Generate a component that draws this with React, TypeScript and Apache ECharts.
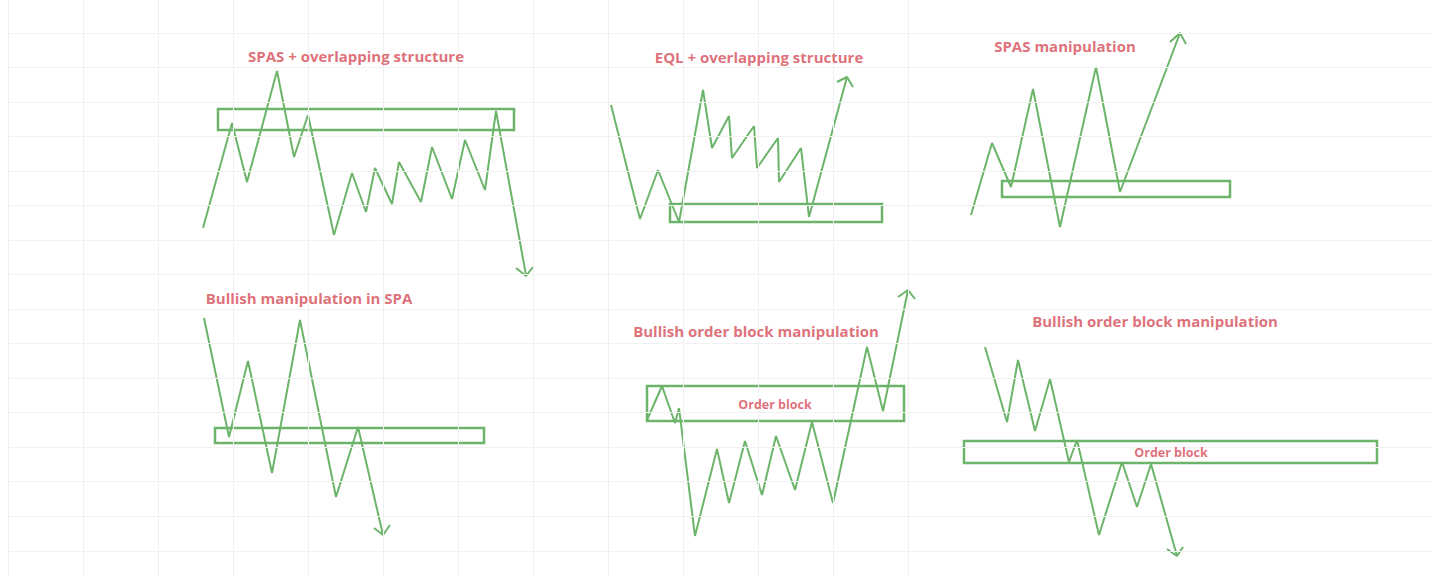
import { useEffect, useRef } from "react";
import * as echarts from "echarts";

type Pt = [number, number];

// page-space coordinates (px) of each sketch: zigzag, arrow head, zone box
const spasPath: Pt[] = [
  [203, 228], [232, 123], [247, 182], [277, 71], [294, 157], [308, 115],
  [334, 235], [352, 173], [366, 212], [375, 168], [392, 204], [399, 162],
  [421, 202], [432, 147], [452, 199], [465, 140], [485, 190], [496, 111],
  [526, 275],
];
const spasHead: Pt[] = [[516, 268], [526, 276], [533, 267]];
const spasBox: Pt[] = [[218, 109], [514, 130]];

const eqlPath: Pt[] = [
  [611, 105], [640, 219], [658, 170], [679, 222], [703, 90], [712, 148],
  [729, 116], [732, 158], [754, 126], [757, 168], [778, 138], [779, 182],
  [801, 148], [809, 217], [847, 77],
];
const eqlHead: Pt[] = [[837, 82], [847, 77], [853, 87]];
const eqlBox: Pt[] = [[670, 204], [882, 222]];

const manipPath: Pt[] = [
  [971, 215], [992, 143], [1011, 187], [1033, 89], [1060, 227], [1096, 67],
  [1120, 192], [1180, 33],
];
const manipHead: Pt[] = [[1170, 42], [1180, 33], [1186, 44]];
const manipBox: Pt[] = [[1002, 181], [1230, 197]];

const spaPath: Pt[] = [
  [204, 318], [229, 437], [248, 361], [272, 473], [300, 320], [336, 497],
  [358, 427], [383, 535],
];
const spaHead: Pt[] = [[374, 528], [383, 535], [390, 525]];
const spaBox: Pt[] = [[215, 428], [484, 443]];

const obUpPath: Pt[] = [
  [647, 420], [662, 386], [675, 423], [679, 408], [695, 536], [717, 449],
  [729, 503], [745, 441], [762, 495], [776, 436], [795, 490], [812, 422],
  [833, 503], [867, 347], [883, 411], [908, 290],
];
const obUpHead: Pt[] = [[898, 297], [908, 290], [915, 299]];
const obUpBox: Pt[] = [[647, 386], [904, 421]];

const obDownPath: Pt[] = [
  [985, 347], [1007, 422], [1018, 360], [1035, 431], [1050, 379],
  [1069, 462], [1077, 440], [1099, 535], [1122, 462], [1137, 507],
  [1151, 464], [1177, 556],
];
const obDownHead: Pt[] = [[1167, 549], [1177, 556], [1183, 547]];
const obDownBox: Pt[] = [[964, 441], [1377, 463]];

const titles: [number, number, string][] = [
  [356, 56, "SPAS + overlapping structure"],
  [759, 57, "EQL + overlapping structure"],
  [1065, 46, "SPAS manipulation"],
  [309, 298, "Bullish manipulation in SPA"],
  [756, 331, "Bullish order block manipulation"],
  [1155, 321, "Bullish order block manipulation"],
];
const boxLabels: [number, number, string][] = [
  [775, 404, "Order block"],
  [1171, 452, "Order block"],
];

// faint paper grid
const hLines = [33, 67, 102, 136, 171, 205, 240, 274, 309, 343, 378, 412, 447, 481, 516, 551];
const vLines = [8, 83, 158, 233, 308, 383, 458, 533, 608, 683, 758, 833, 908];

const GREEN = "#6cb46a";
const RED = "#d64b56";

export default function App() {
  const ref = useRef<HTMLDivElement>(null);

  useEffect(() => {
    if (!ref.current) return;
    const chart = echarts.init(ref.current, null, { renderer: "svg" });

    const paperLines = [
      ...hLines.map((y) => [{ coord: [8, y] }, { coord: [1432, y] }]),
      ...vLines.map((x) => [{ coord: [x, 0] }, { coord: [x, 576] }]),
    ];

    const sketches = [
      [spasPath, spasHead, spasBox],
      [eqlPath, eqlHead, eqlBox],
      [manipPath, manipHead, manipBox],
      [spaPath, spaHead, spaBox],
      [obUpPath, obUpHead, obUpBox],
      [obDownPath, obDownHead, obDownBox],
    ] as const;

    const series: any[] = [
      {
        type: "line",
        data: [],
        silent: true,
        markLine: {
          silent: true,
          symbol: "none",
          label: { show: false },
          lineStyle: { color: "#f1f1f1", width: 1, type: "solid" },
          data: paperLines,
        },
      },
    ];

    sketches.forEach(([path, head, box]) => {
      series.push({
        type: "line",
        data: path,
        showSymbol: false,
        silent: true,
        z: 3,
        lineStyle: { color: GREEN, width: 2 },
        markArea: {
          silent: true,
          itemStyle: { color: "rgba(0,0,0,0)", borderColor: GREEN, borderWidth: 2.5 },
          data: [[{ coord: box[0] }, { coord: box[1] }]],
        },
      });
      series.push({
        type: "line",
        data: head,
        showSymbol: false,
        silent: true,
        z: 3,
        lineStyle: { color: GREEN, width: 2 },
      });
    });

    series.push({
      type: "scatter",
      symbolSize: 0,
      silent: true,
      z: 5,
      data: titles.map(([x, y, t]) => ({ value: [x, y], name: t })),
      label: {
        show: true,
        position: "inside",
        formatter: "{b}",
        color: RED,
        fontFamily: "Open Sans",
        fontWeight: "bold",
        fontSize: 15,
      },
    });
    series.push({
      type: "scatter",
      symbolSize: 0,
      silent: true,
      z: 5,
      data: boxLabels.map(([x, y, t]) => ({ value: [x, y], name: t })),
      label: {
        show: true,
        position: "inside",
        formatter: "{b}",
        color: RED,
        fontFamily: "Open Sans",
        fontWeight: "bold",
        fontSize: 12.5,
      },
    });

    chart.setOption({
      animation: false,
      backgroundColor: "#ffffff",
      grid: { left: 0, right: 0, top: 0, bottom: 0 },
      xAxis: { type: "value", min: 0, max: 1440, show: false },
      yAxis: { type: "value", min: 0, max: 576, inverse: true, show: false },
      series,
    });

    return () => chart.dispose();
  }, []);

  return (
    <div
      ref={ref}
      style={{ position: "absolute", left: 0, top: 0, width: 1440, height: 576 }}
    />
  );
}
